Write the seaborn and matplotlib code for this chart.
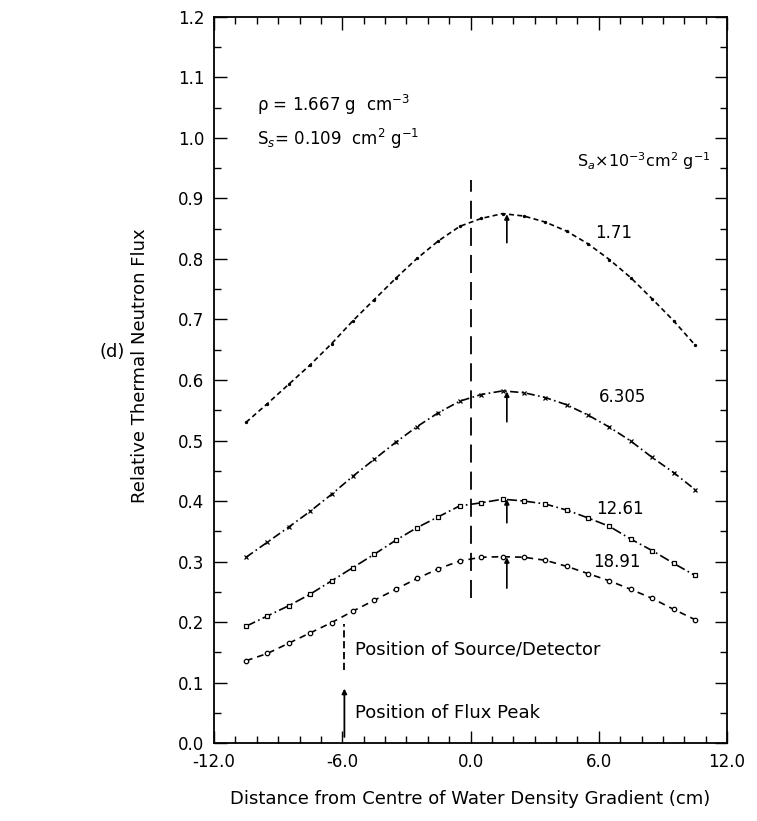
import matplotlib
matplotlib.use("Agg")
import matplotlib.pyplot as plt
import seaborn as sns
import pandas as pd
from matplotlib.ticker import MultipleLocator, FixedLocator

# ---- data ----
x_pos = [-10.5, -9.5, -8.5, -7.5, -6.5, -5.5, -4.5, -3.5, -2.5, -1.5, -0.5,
         0.5, 1.5, 2.5, 3.5, 4.5, 5.5, 6.5, 7.5, 8.5, 9.5, 10.5]
flux_171 = [0.530, 0.561, 0.593, 0.625, 0.660, 0.698, 0.733, 0.768, 0.801, 0.830, 0.854,
            0.867, 0.875, 0.871, 0.861, 0.846, 0.825, 0.799, 0.769, 0.734, 0.698, 0.658]
flux_6305 = [0.307, 0.332, 0.357, 0.383, 0.411, 0.441, 0.469, 0.497, 0.523, 0.546, 0.565,
             0.576, 0.582, 0.579, 0.571, 0.559, 0.542, 0.522, 0.499, 0.472, 0.447, 0.419]
flux_1261 = [0.193, 0.210, 0.227, 0.246, 0.268, 0.290, 0.312, 0.335, 0.356, 0.374, 0.392,
             0.397, 0.403, 0.400, 0.395, 0.385, 0.372, 0.358, 0.337, 0.318, 0.297, 0.277]
flux_1891 = [0.136, 0.148, 0.165, 0.182, 0.199, 0.218, 0.236, 0.254, 0.272, 0.288, 0.301,
             0.307, 0.308, 0.307, 0.302, 0.292, 0.280, 0.268, 0.254, 0.239, 0.221, 0.204]
series_labels = ["1.71", "6.305", "12.61", "18.91"]
peak_x = 1.7
source_x = 0.0

x_ticks = [-12.0, -6.0, 0.0, 6.0, 12.0]
x_ticklabels = ["-12.0", "-6.0", "0.0", "6.0", "12.0"]
y_ticks = [0.0, 0.1, 0.2, 0.3, 0.4, 0.5, 0.6, 0.7, 0.8, 0.9, 1.0, 1.1, 1.2]

sns.set_style("ticks")
plt.rcParams['font.family'] = ['DejaVu Sans']
plt.rcParams['mathtext.fontset'] = 'dejavusans'
for key in ['text.color', 'axes.labelcolor', 'xtick.color', 'ytick.color', 'axes.edgecolor']:
    plt.rcParams[key] = 'black'

fig = plt.figure(figsize=(7.57, 8.21), dpi=100)
ax = fig.add_axes([0.2827, 0.0950, 0.9604 - 0.2827, 0.9793 - 0.0950])

styles = [
    dict(data=flux_171, ls=(0, (3, 2)), marker='.', ms=3, mfc='black'),
    dict(data=flux_6305, ls=(0, (5, 2, 1, 2)), marker='x', ms=3, mfc='black'),
    dict(data=flux_1261, ls=(0, (6, 2, 1, 2)), marker='s', ms=3.2, mfc='white'),
    dict(data=flux_1891, ls=(0, (4, 3)), marker='o', ms=3.2, mfc='white'),
]
for lab, st in zip(series_labels, styles):
    df = pd.DataFrame({"x": x_pos, "y": st["data"]})
    sns.lineplot(data=df, x="x", y="y", ax=ax, color='black', lw=1.2,
                 linestyle=st["ls"], marker=st["marker"], markersize=st["ms"],
                 markerfacecolor=st["mfc"], markeredgecolor='black',
                 markeredgewidth=0.9, legend=False)

# source/detector position line
ax.plot([source_x, source_x], [0.24, 0.93], color='black', lw=1.3,
        linestyle=(0, (10, 5)))

# flux peak arrows
arrow_spans = [(0.827, 0.874), (0.531, 0.581), (0.364, 0.403), (0.256, 0.307)]
for lo, hi in arrow_spans:
    ax.annotate("", xy=(peak_x, hi), xytext=(peak_x, lo),
                arrowprops=dict(arrowstyle='-|>', color='black', lw=1.2,
                                mutation_scale=7, shrinkA=0, shrinkB=0))

# series labels
label_pos = [(6.7, 0.843), (7.1, 0.572), (7.0, 0.386), (6.85, 0.299)]
for lab, (lx, ly) in zip(series_labels, label_pos):
    ax.text(lx, ly, lab, fontsize=12, ha='center', va='center')

# key
ax.plot([-5.9, -5.9], [0.12, 0.196], color='black', lw=1.3, linestyle=(0, (4, 2)))
ax.text(-5.4, 0.155, "Position of Source/Detector", fontsize=13, va='center')
ax.annotate("", xy=(-5.9, 0.09), xytext=(-5.9, 0.01),
            arrowprops=dict(arrowstyle='-|>', color='black', lw=1.3,
                            mutation_scale=7, shrinkA=0, shrinkB=0))
ax.text(-5.4, 0.05, "Position of Flux Peak", fontsize=13, va='center')

# parameters
ax.text(-10.0, 1.055, r"ρ = 1.667 g  cm$^{-3}$", fontsize=12, va='center')
ax.text(-10.0, 0.999, r"S$_s$= 0.109  cm$^2$ g$^{-1}$", fontsize=12, va='center')
ax.text(5.0, 0.961, r"S$_a$×10$^{-3}$cm$^2$ g$^{-1}$", fontsize=11.5, va='center')

ax.set_xlim(-12, 12)
ax.set_ylim(0, 1.2)
ax.xaxis.set_major_locator(FixedLocator(x_ticks))
ax.set_xticklabels(x_ticklabels)
ax.xaxis.set_minor_locator(MultipleLocator(1.0))
ax.yaxis.set_major_locator(FixedLocator(y_ticks))
ax.set_yticklabels([f"{v:.1f}" for v in y_ticks])
ax.yaxis.set_minor_locator(MultipleLocator(0.05))
ax.tick_params(which='both', direction='in', top=True, right=True,
               labelsize=12, color='black', labelcolor='black', width=1.0)
ax.tick_params(which='major', length=9, pad=7)
ax.tick_params(which='minor', length=5)
for s in ax.spines.values():
    s.set_color('black')
    s.set_linewidth(1.3)

ax.set_xlabel("Distance from Centre of Water Density Gradient (cm)", fontsize=13, labelpad=14)
ax.set_ylabel("Relative Thermal Neutron Flux", fontsize=13)
ax.yaxis.set_label_coords(-0.127, 0.52)

fig.text(112 / 757, 1 - 352 / 821, "(d)", fontsize=13, ha='center', va='center')

fig.savefig("out.png", dpi=100, facecolor='white')
